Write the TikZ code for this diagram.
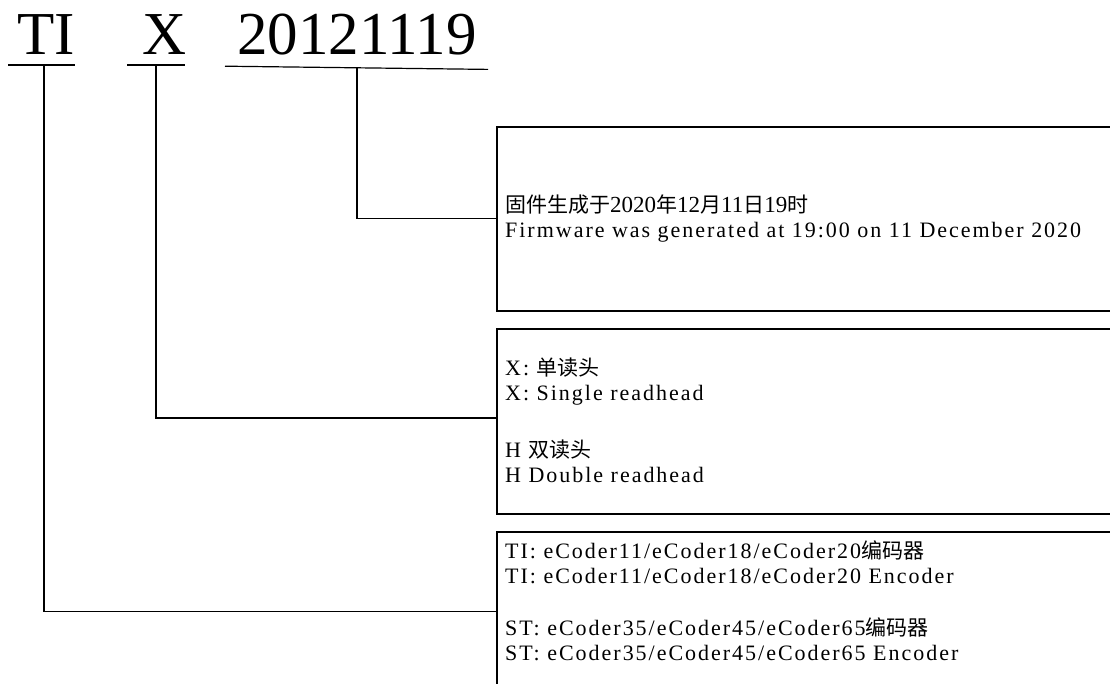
\documentclass[tikz,border=0pt]{standalone}
\usepackage{fontspec}
\setmainfont{Liberation Serif}
\newfontfamily\zhfont{Noto Sans CJK SC}
\newfontfamily\spacedfont[LetterSpace=9]{Liberation Serif}
\newcommand\zh[1]{{\fontsize{21}{21}\zhfont #1}}
\tikzset{
  title/.style={anchor=base west, inner sep=0pt, font=\fontsize{61}{61}\selectfont},
  box/.style={draw, line width=1.6pt, anchor=north west, minimum width=700pt, inner sep=0pt},
  zhline/.style={anchor=base west, inner sep=0pt, font=\fontsize{23}{23}\selectfont},
  enline/.style={anchor=base west, inner sep=0pt, font=\fontsize{22}{22}\spacedfont},
  conn/.style={line width=1.2pt},
  uline/.style={line width=1.2pt}
}
\begin{document}
\begin{tikzpicture}[x=1pt,y=-1pt]
\useasboundingbox (0,0) rectangle (1110,684);
\clip (0,0) rectangle (1110,684);
% titles
\node[title] (ti) at (17,55) {TI};
\node[title] (x) at (142,55) {X};
\node[title] (date) at (237,55) {20121119};
% underlines
\draw[uline] (8,65) -- (75,65);
\draw[uline] (127,65) -- (185,65);
\draw[uline] (225,66.2) -- (488,69.4);
\coordinate (tiu) at (44,65);
\coordinate (xu) at (156,65);
\coordinate (dateu) at (357,67.8);
% boxes
\node[box, minimum height=184pt] (box1) at (496,126) {};
\node[box, minimum height=185pt] (box2) at (496,328) {};
\node[box, minimum height=160pt] (box3) at (496,531) {};
% connectors
\draw[conn] (dateu) |- (box1.west);
\draw[conn] (xu) |- (496,418);
\draw[conn] (tiu) |- (box3.west);
% box 1 text
\node[zhline] (b1a) at (505,213) {\zh{固件生成于}2020\zh{年}12\zh{月}11\zh{日}19\zh{时}};
\node[enline] (b1b) at (505,238) {Firmware was generated at 19:00 on 11 December 2020};
% box 2 text
\node[enline] (b2a) at (505,375) {X: \zh{单读头}};
\node[enline] (b2b) at (505,400) {X: Single readhead};
\node[enline] (b2c) at (505,457) {H \zh{双读头}};
\node[enline] (b2d) at (505,482) {H Double readhead};
% box 3 text
\node[enline] (b3a) at (505,558) {TI: eCoder11/eCoder18/eCoder20\zh{编码器}};
\node[enline] (b3b) at (505,583) {TI: eCoder11/eCoder18/eCoder20 Encoder};
\node[enline] (b3c) at (505,635) {ST: eCoder35/eCoder45/eCoder65\zh{编码器}};
\node[enline] (b3d) at (505,660) {ST: eCoder35/eCoder45/eCoder65 Encoder};
\end{tikzpicture}
\end{document}
